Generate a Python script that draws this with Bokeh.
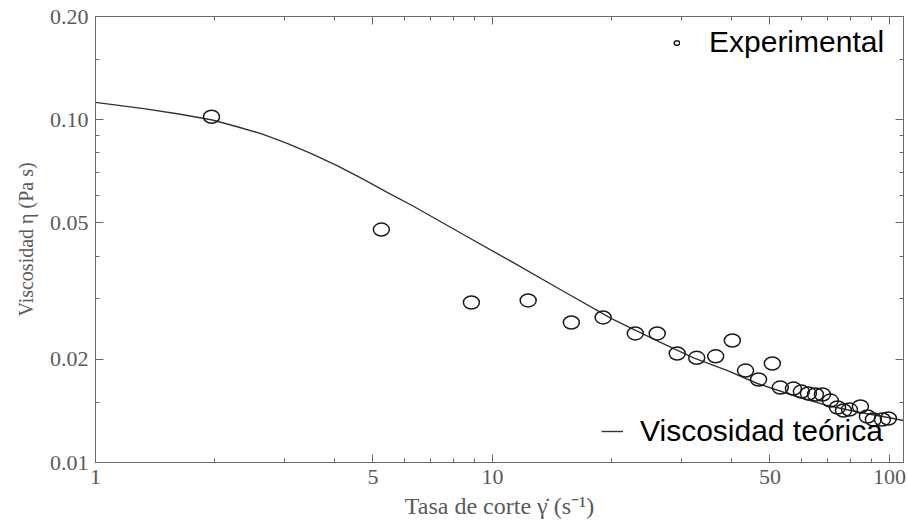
from bokeh.plotting import figure
from bokeh.models import (Range1d, FixedTicker, LogAxis, CustomJSTickFormatter,
                          Legend, LegendItem, ColumnDataSource)
from bokeh.embed import file_html
from bokeh.resources import INLINE

# ---- data ----
exp_rate = [1.96, 5.25, 8.85, 12.3, 15.8, 19.0, 22.9, 26.0, 29.2, 32.7, 36.5, 40.2,
            43.4, 46.8, 50.7, 53.1, 57.3, 60.0, 62.5, 65.1, 67.8, 71.0, 74.0, 76.6,
            79.3, 84.5, 88.0, 91.1, 96.0, 99.4]
exp_visc = [0.1020, 0.0478, 0.0293, 0.0297, 0.0256, 0.0265, 0.0238, 0.0238, 0.0208,
            0.0202, 0.0204, 0.0227, 0.01854, 0.01746, 0.01944, 0.01654, 0.01643,
            0.0161, 0.0159, 0.01579, 0.01579, 0.01516, 0.01447, 0.01418, 0.01427,
            0.01457, 0.01362, 0.01335, 0.01335, 0.01344]

theo_rate = [1.0, 1.336, 1.621, 1.971, 2.275, 2.634, 3.04, 3.52, 4.06, 4.71, 5.43,
             6.29, 8.40, 11.23, 15.01, 20.06, 26.5, 32.1, 39.1, 46.5, 57.3, 69.8,
             84.5, 102.4, 108.5]
theo_visc = [0.1123, 0.1075, 0.1039, 0.0998, 0.0954, 0.0908, 0.0853, 0.0794, 0.0734,
             0.0672, 0.0614, 0.0561, 0.0464, 0.0384, 0.0317, 0.0262, 0.0224, 0.0202,
             0.01854, 0.0170, 0.01568, 0.01466, 0.01399, 0.01344, 0.01326]

x_ticks = [1, 5, 10, 50, 100]
x_tick_labels = ["1", "5", "10", "50", "100"]
x_minor = [2, 3, 4, 6, 7, 8, 9, 20, 30, 40, 60, 70, 80, 90]
y_ticks = [0.01, 0.02, 0.05, 0.1, 0.2]
y_tick_labels = ["0.01", "0.02", "0.05", "0.10", "0.20"]
y_minor = [0.015, 0.03, 0.04, 0.06, 0.07, 0.08, 0.09, 0.15]

x_label = "Tasa de corte γ̇ (s⁻¹)"
y_label = "Viscosidad η (Pa s)"
legend_exp = "Experimental"
legend_theo = "Viscosidad teórica"

AX = "#6a6a6a"
TXT = "#5a5a5a"

p = figure(width=907, height=526, x_axis_type="log", y_axis_type="log",
           x_range=Range1d(1, 108.5), y_range=Range1d(0.01, 0.2),
           output_backend="svg", toolbar_location=None,
           min_border_left=95, min_border_right=4, min_border_top=16,
           min_border_bottom=64)
p.grid.visible = False
p.outline_line_color = AX
p.background_fill_color = "white"
p.border_fill_color = "white"

JS = "const i = vals.indexOf(tick); return i >= 0 ? labs[i] : '';"
xfmt = CustomJSTickFormatter(args=dict(vals=x_ticks, labs=x_tick_labels), code=JS)
yfmt = CustomJSTickFormatter(args=dict(vals=y_ticks, labs=y_tick_labels), code=JS)
blank = CustomJSTickFormatter(code="return '';")


def style(ax, ticks, minor, fmt, labelled):
    ax.ticker = FixedTicker(ticks=ticks, minor_ticks=minor)
    ax.formatter = fmt if labelled else blank
    ax.axis_line_color = AX
    ax.major_tick_line_color = AX
    ax.minor_tick_line_color = AX
    ax.major_tick_in = 8
    ax.major_tick_out = 0
    ax.minor_tick_in = 4
    ax.minor_tick_out = 0
    ax.major_label_text_font = "Liberation Serif"
    ax.major_label_text_color = TXT
    ax.axis_label_text_font = "Liberation Serif"
    ax.axis_label_text_color = TXT
    ax.axis_label_text_font_style = "normal"
    if labelled:
        ax.major_label_text_font_size = "22px"
    else:
        ax.major_label_text_font_size = "0px"
        ax.major_label_standoff = 0


style(p.xaxis[0], x_ticks, x_minor, xfmt, True)
style(p.yaxis[0], y_ticks, y_minor, yfmt, True)
p.xaxis[0].axis_label = x_label
p.xaxis[0].axis_label_text_font_size = "24px"
p.xaxis[0].major_label_standoff = 7
p.xaxis[0].axis_label_standoff = 6
p.yaxis[0].axis_label = y_label
p.yaxis[0].axis_label_text_font_size = "20px"
p.yaxis[0].major_label_standoff = 7
p.yaxis[0].axis_label_standoff = 10

top = LogAxis()
style(top, x_ticks, x_minor, None, False)
p.add_layout(top, "above")
right = LogAxis()
style(right, y_ticks, y_minor, None, False)
p.add_layout(right, "right")

exp_src = ColumnDataSource(dict(x=exp_rate, y=exp_visc))
theo_src = ColumnDataSource(dict(x=theo_rate, y=theo_visc))

line_r = p.line("x", "y", source=theo_src, line_color="#333333", line_width=1.4)
pts_r = p.ellipse("x", "y", source=exp_src, width=16, height=13,
                  width_units="screen", height_units="screen",
                  fill_color=None, line_color="#1a1a1a", line_width=1.5)


def make_legend(item, loc, glyph_w, glyph_h, standoff, size):
    lg = Legend(items=[item], location=loc)
    lg.label_text_font = "Liberation Sans"
    lg.label_text_font_size = size
    lg.label_text_color = "black"
    lg.glyph_width = glyph_w
    lg.glyph_height = glyph_h
    lg.label_standoff = standoff
    lg.padding = 0
    lg.margin = 0
    lg.spacing = 0
    lg.border_line_alpha = 0
    lg.background_fill_alpha = 0
    return lg


p.add_layout(make_legend(LegendItem(label=legend_exp, renderers=[pts_r], index=0),
                         (578, 403), 7, 7, 29, "30px"))
p.add_layout(make_legend(LegendItem(label=legend_theo, renderers=[line_r]),
                         (506, 14), 22, 12, 17, "30px"))

open("out.html", "w").write(file_html(p, INLINE))
